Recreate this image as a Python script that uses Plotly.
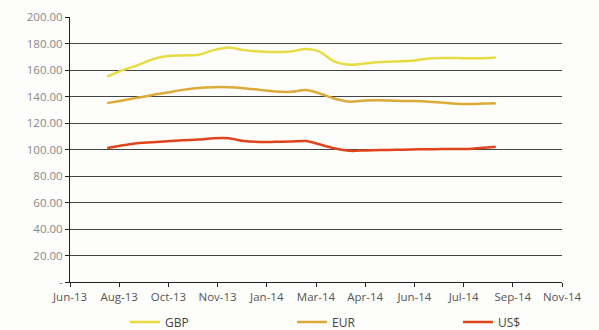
import plotly.graph_objects as go

dates = ["2013-08-06", "2013-08-20", "2013-09-05", "2013-09-20", "2013-10-05", "2013-10-20",
         "2013-11-05", "2013-11-20", "2013-12-05", "2013-12-20", "2014-01-05", "2014-01-20",
         "2014-02-05", "2014-02-20", "2014-03-05", "2014-03-20", "2014-04-05", "2014-04-20",
         "2014-05-05", "2014-05-20", "2014-06-05", "2014-06-20", "2014-07-05", "2014-07-20",
         "2014-08-05", "2014-08-20", "2014-08-28"]

gbp = [155, 159.5, 163.5, 168, 170.5, 171, 171.5, 175, 177, 175, 174, 173.5, 174, 175.8,
       174, 166.5, 164, 165, 166, 166.5, 167, 168.5, 169, 169, 168.8, 169, 169.5]
eur = [135, 136.8, 139, 141.2, 143, 145, 146.5, 147, 147, 146.3, 145, 143.8, 143.5, 144.9,
       142.5, 138.5, 136, 137, 137.2, 136.8, 136.6, 136.3, 135.5, 134.5, 134.3, 134.8, 135]
usd = [101.1, 103, 104.8, 105.5, 106.3, 107, 107.5, 108.5, 108.5, 106.4, 105.7, 105.8, 106,
       106.4, 104, 101, 99, 99.3, 99.6, 99.8, 100, 100.2, 100.3, 100.4, 100.6, 101.5, 102]

x_tick_vals = ["2013-06-30", "2013-08-18", "2013-10-06", "2013-11-24", "2014-01-12", "2014-03-02",
               "2014-04-20", "2014-06-08", "2014-07-27", "2014-09-14", "2014-11-02"]
x_tick_text = ["Jun-13", "Aug-13", "Oct-13", "Nov-13", "Jan-14", "Mar-14",
               "Apr-14", "Jun-14", "Jul-14", "Sep-14", "Nov-14"]
y_tick_vals = [0, 20, 40, 60, 80, 100, 120, 140, 160, 180, 200]
y_tick_text = ["-", "20.00", "40.00", "60.00", "80.00", "100.00", "120.00", "140.00",
               "160.00", "180.00", "200.00"]

series = [("GBP", gbp, "#e6dc42"), ("EUR", eur, "#dcaa38"), ("US$", usd, "#e0441c")]
legend_ids = ["legend", "legend2", "legend3"]
legend_left_px = [125, 292, 458]

fig = go.Figure()
for (name, vals, col), lid in zip(series, legend_ids):
    fig.add_trace(go.Scatter(x=dates, y=vals, name=name, mode="lines", legend=lid,
                             line=dict(color=col, width=2.5, shape="spline", smoothing=0.8)))

legend_style = dict(orientation="h", xanchor="left", xref="container",
                    y=0.024, yanchor="middle", yref="container",
                    font=dict(size=12, color="#444"), bgcolor="rgba(0,0,0,0)")

fig.update_layout(
    width=599, height=330,
    margin=dict(l=70, r=37, t=17, b=48, autoexpand=False),
    paper_bgcolor="#fdfdfb", plot_bgcolor="#fdfdfb",
    font=dict(family="Open Sans", size=11, color="#666"),
    showlegend=True,
    legend=dict(x=legend_left_px[0] / 599, **legend_style),
    legend2=dict(x=legend_left_px[1] / 599, **legend_style),
    legend3=dict(x=legend_left_px[2] / 599, **legend_style),
    xaxis=dict(type="date", range=["2013-06-30", "2014-11-02"], tickvals=x_tick_vals,
               ticktext=x_tick_text, showgrid=False, showline=True, linecolor="#222",
               linewidth=1, ticks="outside", ticklen=4, tickcolor="#222",
               tickfont=dict(color="#555", size=11.5), zeroline=False),
    yaxis=dict(range=[0, 200], tickvals=y_tick_vals, ticktext=y_tick_text,
               showgrid=True, gridcolor="#444", gridwidth=1, showline=True,
               linecolor="#222", linewidth=1, ticks="outside", ticklen=4,
               tickcolor="#222", tickfont=dict(color="#888", size=11.5), zeroline=False),
)

fig.write_html("out.html", config={"displayModeBar": False},
               post_script="document.body.style.margin='0';")
